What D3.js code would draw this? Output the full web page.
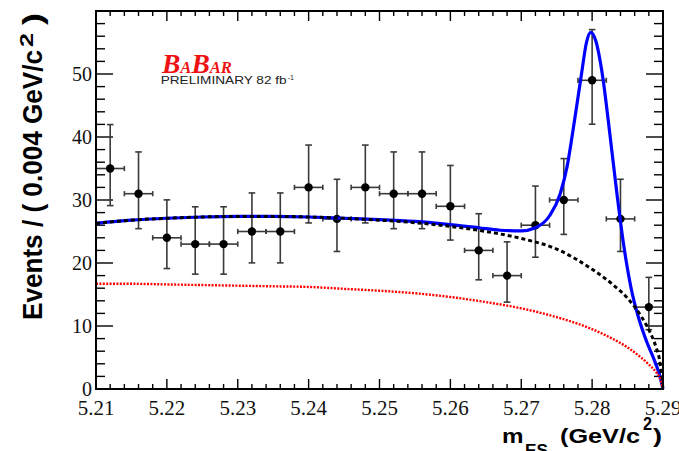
<!DOCTYPE html>
<html>
<head>
<meta charset="utf-8">
<script src="https://cdn.jsdelivr.net/npm/d3@7"></script>
<style>
  html, body { margin: 0; padding: 0; background: #fff; }
  svg { display: block; }
</style>
</head>
<body>
<svg id="chart" width="679" height="451"></svg>
<script>
// ---------- data ----------
const binCenters = [5.212, 5.216, 5.220, 5.224, 5.228, 5.232, 5.236, 5.240, 5.244, 5.248,
                    5.252, 5.256, 5.260, 5.264, 5.268, 5.272, 5.276, 5.280, 5.284, 5.288];
const events     = [35, 31, 24, 23, 23, 25, 25, 32, 27, 32,
                    31, 31, 29, 22, 18, 26, 30, 49, 27, 13];
const errHigh    = [6.97, 6.63, 6.02, 5.92, 5.92, 6.12, 6.12, 6.72, 6.29, 6.72,
                    6.63, 6.63, 6.48, 5.82, 5.36, 6.21, 6.57, 8.05, 6.29, 4.72];
const errLow     = [5.89, 5.55, 4.88, 4.77, 4.77, 4.98, 4.98, 5.64, 5.17, 5.64,
                    5.55, 5.55, 5.36, 4.67, 4.21, 5.08, 5.46, 6.97, 5.17, 3.58];
const binHalfWidth = 0.002;

// total fit (blue)
const fitMass  = [5.210, 5.215, 5.220, 5.225, 5.230, 5.235, 5.240, 5.245, 5.250, 5.255,
                  5.260, 5.264, 5.267, 5.270, 5.272, 5.274, 5.2755, 5.2765, 5.2775, 5.2785,
                  5.2792, 5.2798, 5.2805, 5.2815, 5.2825, 5.2835, 5.2845, 5.2855, 5.2865, 5.2877,
                  5.2888, 5.2895, 5.2900];
const fitTotal = [26.3, 26.8, 27.1, 27.3, 27.4, 27.4, 27.3, 27.1, 26.9, 26.6,
                  26.1, 25.6, 25.2, 25.1, 25.6, 27.5, 31.0, 35.5, 42.5, 50.0,
                  55.0, 56.6, 55.3, 49.5, 40.5, 31.0, 22.5, 16.0, 11.5, 7.5,
                  4.5, 2.3, 0.0];

// background components
const bkgMass       = [5.210, 5.215, 5.220, 5.225, 5.230, 5.235, 5.240, 5.245, 5.250, 5.255,
                       5.260, 5.265, 5.270, 5.275, 5.280, 5.283, 5.285, 5.287, 5.288, 5.289,
                       5.2895, 5.2900];
const bkgTotal      = [26.3, 26.8, 27.1, 27.3, 27.4, 27.4, 27.3, 27.1, 26.8, 26.4,
                       25.8, 25.0, 23.9, 22.2, 19.0, 16.5, 14.4, 11.4, 9.4, 6.7,
                       4.7, 0.0];
const bkgContinuum  = [16.7, 16.7, 16.6, 16.5, 16.4, 16.3, 16.2, 15.9, 15.6, 15.2,
                       14.6, 13.8, 12.8, 11.4, 9.5, 7.9, 6.6, 4.9, 3.9, 2.7,
                       1.9, 0.0];

const xTicks = [5.21, 5.22, 5.23, 5.24, 5.25, 5.26, 5.27, 5.28, 5.29];
const yTicks = [0, 10, 20, 30, 40, 50];

// ---------- drawing ----------
const svg = d3.select("#chart");
svg.append("rect").attr("width", 679).attr("height", 451).attr("fill", "#fff");

const L = 96, R = 663, T = 11, B = 389;
const x = d3.scaleLinear().domain([5.21, 5.29]).range([L, R]);
const y = d3.scaleLinear().domain([0, 60]).range([B, T]);

const serif = "'Liberation Serif', 'Times New Roman', serif";
const sans = "'Liberation Sans', Arial, sans-serif";

// ticks
const xMinor = d3.range(0, 41).map(i => 5.21 + i * 0.002);
const yMinor = d3.range(0, 31).map(i => i * 2);

const tickG = svg.append("g").attr("stroke", "#000").attr("stroke-width", 1.4);
xMinor.forEach((v, i) => {
  const major = i % 5 === 0;
  const len = major ? 10 : 5;
  tickG.append("line").attr("x1", x(v)).attr("x2", x(v)).attr("y1", B).attr("y2", B - len);
  tickG.append("line").attr("x1", x(v)).attr("x2", x(v)).attr("y1", T).attr("y2", T + len);
});
yMinor.forEach((v, i) => {
  const major = i % 5 === 0;
  const len = major ? 17 : 9;
  tickG.append("line").attr("y1", y(v)).attr("y2", y(v)).attr("x1", L).attr("x2", L + len);
  tickG.append("line").attr("y1", y(v)).attr("y2", y(v)).attr("x1", R).attr("x2", R - len);
});

// tick labels
svg.append("g").selectAll("text").data(xTicks).join("text")
  .attr("x", d => x(d)).attr("y", 415)
  .attr("text-anchor", "middle")
  .style("font-family", serif)
  .attr("font-size", 21)
  .attr("fill", "#111")
  .text(d => d.toFixed(2));
svg.append("g").selectAll("text").data(yTicks).join("text")
  .attr("x", 92).attr("y", d => y(d) + 7)
  .attr("text-anchor", "end")
  .style("font-family", serif)
  .attr("font-size", 20)
  .attr("fill", "#111")
  .text(d => d);

// data points
const dataG = svg.append("g");
binCenters.forEach((m, i) => {
  const cx = x(m), cy = y(events[i]);
  const yt = y(events[i] + errHigh[i]), yb = y(events[i] - errLow[i]);
  const xl = x(m - binHalfWidth), xr = x(m + binHalfWidth);
  const g = dataG.append("g").attr("stroke", "#3a3a3a").attr("stroke-width", 1.6);
  g.append("line").attr("x1", cx).attr("x2", cx).attr("y1", yt).attr("y2", yb);
  g.append("line").attr("x1", xl).attr("x2", xr).attr("y1", cy).attr("y2", cy);
  g.append("line").attr("x1", cx - 3.3).attr("x2", cx + 3.3).attr("y1", yt).attr("y2", yt);
  g.append("line").attr("x1", cx - 3.3).attr("x2", cx + 3.3).attr("y1", yb).attr("y2", yb);
  g.append("line").attr("x1", xl).attr("x2", xl).attr("y1", cy - 2.6).attr("y2", cy + 2.6);
  g.append("line").attr("x1", xr).attr("x2", xr).attr("y1", cy - 2.6).attr("y2", cy + 2.6);
  dataG.append("circle").attr("cx", cx).attr("cy", cy).attr("r", 4.2).attr("fill", "#000");
});

// curves
const line = d3.line().curve(d3.curveMonotoneX);
svg.append("path")
  .attr("d", line(fitMass.map((m, i) => [x(m), y(fitTotal[i])])))
  .attr("fill", "none").attr("stroke", "#0000ff").attr("stroke-width", 3.2);
svg.append("path")
  .attr("d", line(bkgMass.map((m, i) => [x(m), y(bkgTotal[i])])))
  .attr("fill", "none").attr("stroke", "#000").attr("stroke-width", 3)
  .attr("stroke-dasharray", "4,3");
svg.append("path")
  .attr("d", line(bkgMass.map((m, i) => [x(m), y(bkgContinuum[i])])))
  .attr("fill", "none").attr("stroke", "#ff0000").attr("stroke-width", 2.4)
  .attr("stroke-dasharray", "2,1.4");

// frame
svg.append("rect").attr("x", L).attr("y", T).attr("width", R - L).attr("height", B - T)
  .attr("fill", "none").attr("stroke", "#000").attr("stroke-width", 2);

// BaBar logo
const logo = svg.append("text")
  .attr("x", 162).attr("y", 72.7)
  .style("font-family", serif)
  .attr("font-style", "italic").attr("font-weight", "bold")
  .attr("fill", "#ee1111")
  .attr("textLength", 70).attr("lengthAdjust", "spacingAndGlyphs");
logo.append("tspan").attr("font-size", 28).text("B");
logo.append("tspan").attr("font-size", 17).text("A");
logo.append("tspan").attr("font-size", 28).text("B");
logo.append("tspan").attr("font-size", 17).text("AR");

svg.append("text")
  .attr("x", 160.7).attr("y", 84.3)
  .style("font-family", sans)
  .attr("font-size", 10.7).attr("fill", "#222")
  .attr("textLength", 126).attr("lengthAdjust", "spacingAndGlyphs")
  .text("PRELIMINARY 82 fb");
svg.append("text")
  .attr("x", 287.7).attr("y", 80)
  .style("font-family", sans)
  .attr("font-size", 7.5).attr("fill", "#222")
  .attr("textLength", 6.3).attr("lengthAdjust", "spacingAndGlyphs")
  .text("-1");

// y axis title (rotated)
const yt = svg.append("g").attr("transform", "translate(41.5,320) rotate(-90)")
  .style("font-family", sans).attr("font-weight", "bold");
yt.append("text").attr("x", 0).attr("y", 0).attr("font-size", 27)
  .attr("textLength", 270).attr("lengthAdjust", "spacingAndGlyphs")
  .text("Events / ( 0.004 GeV/c");
yt.append("text").attr("x", 273).attr("y", -9).attr("font-size", 19)
  .attr("textLength", 14).attr("lengthAdjust", "spacingAndGlyphs")
  .text("2");
yt.append("text").attr("x", 295).attr("y", 0).attr("font-size", 27)
  .attr("textLength", 12).attr("lengthAdjust", "spacingAndGlyphs")
  .text(")");

// x axis title
const xt = svg.append("g").style("font-family", sans).attr("font-weight", "bold").attr("fill", "#000");
xt.append("text").attr("x", 502).attr("y", 443).attr("font-size", 21)
  .attr("textLength", 21.5).attr("lengthAdjust", "spacingAndGlyphs").text("m");
xt.append("text").attr("x", 525).attr("y", 456).attr("font-size", 16)
  .attr("textLength", 23).attr("lengthAdjust", "spacingAndGlyphs").text("ES");
xt.append("text").attr("x", 560).attr("y", 443).attr("font-size", 21)
  .attr("textLength", 80).attr("lengthAdjust", "spacingAndGlyphs").text("(GeV/c");
xt.append("text").attr("x", 643).attr("y", 430).attr("font-size", 18)
  .attr("textLength", 9).attr("lengthAdjust", "spacingAndGlyphs").text("2");
xt.append("text").attr("x", 653).attr("y", 443).attr("font-size", 21)
  .attr("textLength", 9).attr("lengthAdjust", "spacingAndGlyphs").text(")");
</script>
</body>
</html>
